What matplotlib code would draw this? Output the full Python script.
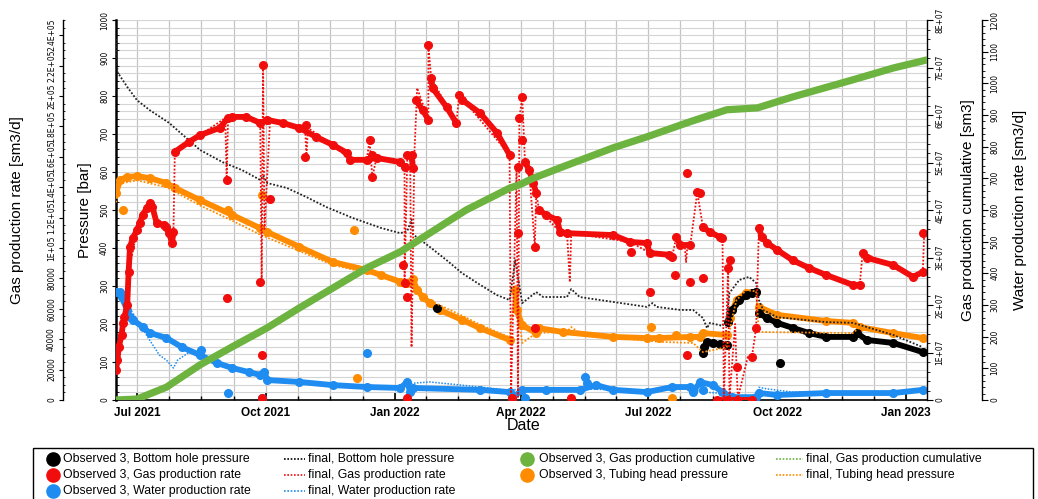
import matplotlib
matplotlib.use("Agg")
import matplotlib.pyplot as plt
import matplotlib.dates as mdates
from matplotlib.ticker import FixedLocator, MultipleLocator
from matplotlib.lines import Line2D
from matplotlib.patches import Rectangle
from matplotlib import font_manager
import numpy as np
import pandas as pd

# ---------------- data ----------------
# Bottom hole pressure [bar]
bhp_final = [("2021-06-16", 950), ("2021-06-17", 863), ("2021-06-24", 824), ("2021-07-01", 789),
             ("2021-07-10", 763), ("2021-07-24", 729), ("2021-08-01", 703), ("2021-08-15", 658),
             ("2021-08-31", 626), ("2021-09-14", 605), ("2021-09-27", 579), ("2021-09-29", 590),
             ("2021-10-02", 571), ("2021-10-16", 558), ("2021-10-30", 534), ("2021-11-13", 508),
             ("2021-12-02", 479), ("2021-12-22", 453), ("2022-01-05", 439), ("2022-01-10", 445),
             ("2022-01-13", 475), ("2022-01-14", 436), ("2022-01-26", 403), ("2022-02-07", 368),
             ("2022-02-18", 334), ("2022-03-03", 303), ("2022-03-15", 276), ("2022-03-24", 263),
             ("2022-03-28", 368), ("2022-04-02", 255), ("2022-04-12", 284), ("2022-04-17", 271),
             ("2022-05-04", 271), ("2022-05-07", 292), ("2022-05-13", 271), ("2022-06-06", 258),
             ("2022-06-30", 245), ("2022-07-04", 255), ("2022-07-07", 245), ("2022-07-24", 237),
             ("2022-08-02", 237), ("2022-08-09", 216), ("2022-08-12", 189), ("2022-08-14", 203),
             ("2022-08-23", 195), ("2022-08-26", 216), ("2022-08-28", 282), ("2022-09-04", 316),
             ("2022-09-11", 324), ("2022-09-16", 308), ("2022-09-18", 263), ("2022-09-21", 237),
             ("2022-10-01", 218), ("2022-11-05", 205), ("2022-11-24", 203), ("2022-12-04", 192),
             ("2022-12-23", 171), ("2023-01-13", 139)]
bhp_obs = [("2022-08-09", 124), ("2022-08-10", 140), ("2022-08-12", 153), ("2022-08-16", 150),
           ("2022-08-21", 147), ("2022-08-26", 145), ("2022-08-26", None),
           ("2022-08-27", 205), ("2022-08-30", 237), ("2022-09-04", 262), ("2022-09-09", 276),
           ("2022-09-13", 282), ("2022-09-16", 284), ("2022-09-16", None),
           ("2022-09-18", 229), ("2022-09-24", 215), ("2022-10-01", 203), ("2022-10-12", 190),
           ("2022-10-24", 176), ("2022-11-05", 166), ("2022-11-24", 166), ("2022-11-27", 176),
           ("2022-12-04", 158), ("2022-12-23", 150), ("2023-01-13", 126)]
bhp_obs_single = [("2022-01-31", 242), ("2022-10-03", 97)]

# Tubing head pressure [bar]
thp_obs = [("2021-06-16", 545), ("2021-06-19", 579), ("2021-06-24", 587), ("2021-07-01", 589),
           ("2021-07-10", 584), ("2021-07-22", 571), ("2021-07-28", 558), ("2021-08-15", 526),
           ("2021-09-07", 487), ("2021-09-27", 452), ("2021-10-02", 442), ("2021-10-25", 403),
           ("2021-11-18", 363), ("2021-12-12", 342), ("2021-12-22", 329), ("2022-01-05", 311),
           ("2022-01-10", 308), ("2022-01-14", 318), ("2022-01-17", 289), ("2022-01-21", 271),
           ("2022-01-26", 255), ("2022-02-02", 237), ("2022-02-18", 211), ("2022-03-03", 189),
           ("2022-03-24", 158), ("2022-03-24", None),
           ("2022-03-28", 289), ("2022-03-29", 237), ("2022-04-02", 197), ("2022-04-12", 176),
           ("2022-04-14", 189), ("2022-05-01", 179), ("2022-06-06", 166), ("2022-06-30", 163),
           ("2022-07-09", 163), ("2022-07-31", 166), ("2022-08-07", 166), ("2022-08-09", 176),
           ("2022-08-26", 171), ("2022-08-26", None),
           ("2022-08-28", 216), ("2022-09-02", 263), ("2022-09-09", 282), ("2022-09-16", 284),
           ("2022-09-16", None),
           ("2022-09-18", 245), ("2022-10-01", 224), ("2022-11-05", 208), ("2022-11-24", 203),
           ("2022-11-29", 192), ("2022-12-23", 176), ("2023-01-13", 163)]
thp_obs_single = [("2021-06-21", 500), ("2021-09-04", 500), ("2021-09-28", 540), ("2021-12-03", 447),
                  ("2021-12-05", 58), ("2022-07-03", 192), ("2022-07-21", 171), ("2022-07-18", 5)]
thp_final = [("2021-06-16", 520), ("2021-06-19", 570), ("2021-07-01", 578), ("2021-07-22", 560),
             ("2021-08-15", 512), ("2021-09-07", 472), ("2021-09-27", 435), ("2021-10-25", 392),
             ("2021-11-18", 355), ("2021-12-12", 335), ("2022-01-05", 318), ("2022-01-14", 300),
             ("2022-01-26", 262), ("2022-02-18", 222), ("2022-03-03", 198), ("2022-03-24", 165),
             ("2022-03-28", 300), ("2022-04-02", 150), ("2022-04-12", 176), ("2022-05-04", 180),
             ("2022-05-07", 192), ("2022-05-13", 176), ("2022-06-06", 165), ("2022-07-09", 153),
             ("2022-08-02", 150), ("2022-08-09", 126), ("2022-08-26", 139), ("2022-08-30", 218),
             ("2022-09-02", 263), ("2022-09-09", 289), ("2022-09-16", 286), ("2022-09-18", 179),
             ("2022-11-24", 176), ("2022-11-29", 192), ("2022-12-23", 176), ("2023-01-13", 160)]

# Gas production rate [sm3/d]
gas_obs = [("2021-06-16", 19750), ("2021-06-17", 26250), ("2021-06-18", 35000), ("2021-06-20", 42750),
           ("2021-06-21", 50750), ("2021-06-22", 54500), ("2021-06-24", 62500), ("2021-06-25", 84250),
           ("2021-06-26", 100750), ("2021-06-28", 106500), ("2021-07-01", 111750), ("2021-07-03", 116500),
           ("2021-07-05", 121750), ("2021-07-08", 126250), ("2021-07-10", 129500), ("2021-07-12", 127000),
           ("2021-07-15", 116500), ("2021-07-20", 115250), ("2021-07-22", 113750), ("2021-07-24", 109750),
           ("2021-07-26", 103250), ("2021-07-27", 110500), ("2021-07-27", None),
           ("2021-07-28", 163250), ("2021-08-07", 169750), ("2021-08-15", 174250), ("2021-08-29", 179000),
           ("2021-09-04", 185500), ("2021-09-07", 186250), ("2021-09-17", 186250), ("2021-09-27", 182250),
           ("2021-10-02", 184250), ("2021-10-13", 182250), ("2021-10-25", 179000), ("2021-11-06", 173000),
           ("2021-11-18", 167750), ("2021-11-28", 162500), ("2021-11-30", 158000), ("2021-12-12", 158000),
           ("2021-12-19", 159250), ("2022-01-05", 156500), ("2022-01-08", 153250), ("2022-01-08", None),
           ("2022-01-10", 161250), ("2022-01-13", 161250), ("2022-01-14", 152750), ("2022-01-14", None),
           ("2022-01-16", 197250), ("2022-01-21", 190750), ("2022-01-25", 184250), ("2022-01-25", None),
           ("2022-01-27", 211750), ("2022-01-28", 205250), ("2022-02-07", 192750), ("2022-02-14", 182250),
           ("2022-02-14", None),
           ("2022-02-16", 200750), ("2022-02-18", 197500), ("2022-03-03", 188750), ("2022-03-15", 175750),
           ("2022-03-24", 161250), ("2022-03-24", None),
           ("2022-04-04", 156500), ("2022-04-07", 151250), ("2022-04-10", 142500), ("2022-04-12", 136250),
           ("2022-04-12", None),
           ("2022-04-14", 125000), ("2022-04-19", 121750), ("2022-04-27", 118500), ("2022-04-29", 110500),
           ("2022-05-04", 109750), ("2022-06-06", 108500), ("2022-06-18", 104000), ("2022-06-30", 103250),
           ("2022-07-02", 96750), ("2022-07-16", 95500), ("2022-07-18", 94000), ("2022-07-18", None),
           ("2022-07-21", 107250), ("2022-07-24", 102000), ("2022-07-31", 102000), ("2022-07-31", None),
           ("2022-08-05", 136750), ("2022-08-07", 136250), ("2022-08-07", None),
           ("2022-08-09", 113750), ("2022-08-14", 110500), ("2022-08-21", 107250), ("2022-08-23", 106500),
           ("2022-08-23", None),
           ("2022-08-19", 0), ("2022-08-26", 0), ("2022-09-02", 0), ("2022-09-13", 0), ("2022-09-13", None),
           ("2022-09-18", 113250), ("2022-09-20", 107250), ("2022-09-24", 103250), ("2022-10-01", 98750),
           ("2022-10-12", 92000), ("2022-10-24", 86750), ("2022-11-05", 82250), ("2022-11-24", 75750),
           ("2022-11-29", 75750), ("2022-11-29", None),
           ("2022-12-01", 96750), ("2022-12-04", 93500), ("2022-12-23", 88750), ("2023-01-06", 81000),
           ("2023-01-13", 84250)]
gas_obs_single = [("2021-09-03", 67000), ("2021-09-03", 144750), ("2021-09-29", 220500), ("2021-09-27", 77750),
                  ("2021-09-28", 29500), ("2021-09-28", 1250), ("2021-10-04", 132250), ("2021-10-30", 181000),
                  ("2021-10-29", 160000), ("2021-12-14", 171000), ("2021-12-16", 161250), ("2021-12-16", 146750),
                  ("2022-01-07", 88750), ("2022-01-10", 67750), ("2022-01-08", 77000), ("2022-01-10", 1250),
                  ("2022-01-25", 233500), ("2022-03-26", 1250), ("2022-03-30", 153250), ("2022-03-31", 185500),
                  ("2022-04-02", 199250), ("2022-04-02", 171000), ("2022-03-30", 109750), ("2022-04-11", 100750),
                  ("2022-04-11", 47250), ("2022-05-07", 1250), ("2022-06-19", 97250), ("2022-07-02", 71000),
                  ("2022-07-20", 82250), ("2022-07-31", 77500), ("2022-08-09", 80250), ("2022-07-29", 29500),
                  ("2022-07-29", 149250), ("2022-08-27", 86750), ("2022-08-28", 92000), ("2022-09-02", 21750),
                  ("2022-09-13", 28250), ("2022-09-16", 47250), ("2023-01-13", 109750)]
gas_final = [("2021-06-16", 19750), ("2021-06-17", 26250), ("2021-06-20", 42750), ("2021-06-24", 62500),
             ("2021-06-25", 84250), ("2021-07-01", 111750), ("2021-07-10", 129500), ("2021-07-15", 116500),
             ("2021-07-22", 113750), ("2021-07-27", 110000), ("2021-07-28", 163250), ("2021-08-15", 174250),
             ("2021-09-02", 185500), ("2021-09-03", 144750), ("2021-09-04", 185500), ("2021-09-17", 186250),
             ("2021-09-27", 182250), ("2021-09-28", 77750), ("2021-09-29", 220500), ("2021-09-30", 112500),
             ("2021-10-04", 184250), ("2021-10-25", 179000), ("2021-10-29", 179000), ("2021-10-30", 160000),
             ("2021-10-31", 179000), ("2021-11-18", 167750), ("2021-11-30", 158000), ("2021-12-12", 158000),
             ("2021-12-14", 171000), ("2021-12-16", 146750), ("2021-12-19", 159250), ("2022-01-05", 156500),
             ("2022-01-08", 153250), ("2022-01-08", 77000), ("2022-01-10", 161250), ("2022-01-12", 161250),
             ("2022-01-13", 34750), ("2022-01-15", 161250), ("2022-01-17", 205250), ("2022-01-25", 184250),
             ("2022-01-25", 233500), ("2022-01-27", 211750), ("2022-02-14", 182250), ("2022-02-16", 200750),
             ("2022-03-24", 161250), ("2022-03-25", 2000), ("2022-03-29", 153250), ("2022-03-30", 2000),
             ("2022-03-31", 185500), ("2022-04-02", 199250), ("2022-04-04", 156500), ("2022-04-07", 151250),
             ("2022-04-11", 100750), ("2022-04-12", 136250), ("2022-04-14", 125000), ("2022-04-29", 110500),
             ("2022-05-04", 109750), ("2022-05-06", 77500), ("2022-05-07", 109750), ("2022-06-18", 104000),
             ("2022-07-02", 96750), ("2022-07-18", 94000), ("2022-07-21", 107250), ("2022-07-27", 102000),
             ("2022-07-28", 90750), ("2022-07-29", 102000), ("2022-07-31", 102000), ("2022-08-05", 136750),
             ("2022-08-09", 113750), ("2022-08-23", 106500), ("2022-08-24", 1250), ("2022-08-27", 86750),
             ("2022-08-28", 1250), ("2022-09-01", 50000), ("2022-09-02", 21750), ("2022-09-03", 1250),
             ("2022-09-10", 28250), ("2022-09-13", 28250), ("2022-09-16", 47250), ("2022-09-18", 113250),
             ("2022-09-24", 103250), ("2022-10-12", 92000), ("2022-11-24", 75750), ("2022-11-29", 75750),
             ("2022-12-01", 96750), ("2022-12-23", 88750), ("2023-01-06", 81000), ("2023-01-13", 84250),
             ("2023-01-14", 109750)]

# Water production rate [sm3/d]
water_obs = [("2021-06-16", 341), ("2021-06-19", 341), ("2021-06-20", 325), ("2021-06-24", 284),
             ("2021-06-26", 262), ("2021-06-28", 253), ("2021-07-05", 231), ("2021-07-10", 212),
             ("2021-07-22", 196), ("2021-08-02", 167), ("2021-08-15", 142), ("2021-08-27", 117),
             ("2021-09-07", 101), ("2021-09-19", 88), ("2021-09-27", 79), ("2021-09-30", 88),
             ("2021-10-02", 63), ("2021-10-25", 57), ("2021-11-18", 47), ("2021-12-12", 41),
             ("2022-01-05", 38), ("2022-01-10", 57), ("2022-01-12", 25), ("2022-01-14", 38),
             ("2022-03-03", 32), ("2022-03-24", 25), ("2022-03-26", 6), ("2022-04-02", 32),
             ("2022-04-19", 32), ("2022-05-13", 32), ("2022-05-25", 47), ("2022-06-06", 32),
             ("2022-06-30", 25), ("2022-07-18", 41), ("2022-07-31", 41), ("2022-08-02", 25),
             ("2022-08-07", 57), ("2022-08-16", 47), ("2022-08-23", 25), ("2022-08-30", 9),
             ("2022-09-16", 9), ("2022-09-18", 22), ("2022-10-01", 16), ("2022-11-05", 22),
             ("2022-12-23", 22), ("2023-01-13", 32)]
water_obs_single = [("2021-08-16", 158), ("2021-12-12", 148), ("2021-09-04", 22), ("2021-09-28", 6),
                    ("2022-05-17", 73), ("2022-05-18", 54), ("2022-04-04", 6), ("2022-08-09", 32)]
water_final = [("2021-06-16", 341), ("2021-06-21", 316), ("2021-06-28", 275), ("2021-07-10", 189),
               ("2021-07-17", 142), ("2021-07-22", 126), ("2021-07-27", 101), ("2021-07-30", 126),
               ("2021-08-07", 150), ("2021-08-15", 140), ("2021-09-07", 100), ("2021-10-01", 75),
               ("2021-10-02", 60), ("2021-11-18", 50), ("2022-01-05", 42), ("2022-01-14", 53),
               ("2022-01-26", 57), ("2022-03-03", 41), ("2022-03-24", 30), ("2022-04-02", 36),
               ("2022-05-13", 35), ("2022-06-30", 30), ("2022-07-31", 35), ("2022-08-09", 25),
               ("2022-08-26", 20), ("2022-09-01", 8), ("2022-09-16", 8), ("2022-09-18", 40),
               ("2022-09-24", 35), ("2022-10-12", 25), ("2022-12-23", 25), ("2023-01-13", 30)]

# Gas production cumulative [sm3]
cum_obs = [("2021-06-16", 0), ("2021-07-01", 0.2e6), ("2021-07-22", 2.7e6), ("2021-08-15", 7.4e6),
           ("2021-09-07", 11.2e6), ("2021-10-02", 15.2e6), ("2021-10-25", 19.4e6), ("2021-11-18", 23.6e6),
           ("2021-12-12", 27.8e6), ("2022-01-05", 31.2e6), ("2022-02-21", 40.0e6), ("2022-03-24", 44.6e6),
           ("2022-03-31", 45.3e6), ("2022-04-10", 46.7e6), ("2022-05-01", 49.1e6), ("2022-06-06", 53.1e6),
           ("2022-06-30", 55.4e6), ("2022-07-31", 58.6e6), ("2022-08-26", 61.1e6), ("2022-09-17", 61.5e6),
           ("2022-10-12", 63.8e6), ("2022-11-24", 67.4e6), ("2022-12-23", 69.9e6), ("2023-01-16", 71.6e6)]

gas_ticks = [0, 20000, 40000, 60000, 80000, 100000, 120000, 140000, 160000, 180000, 200000, 220000, 240000]
gas_tick_labels = ["0", "20000", "40000", "60000", "80000", "1E+05", "1.2E+05", "1.4E+05",
                   "1.6E+05", "1.8E+05", "2E+05", "2.2E+05", "2.4E+05"]
cum_ticks = [0, 1e7, 2e7, 3e7, 4e7, 5e7, 6e7, 7e7, 8e7]
cum_tick_labels = ["0", "1E+07", "2E+07", "3E+07", "4E+07", "5E+07", "6E+07", "7E+07", "8E+07"]

# ---------------- styling ----------------
RED = "#f20d0d"
ORANGE = "#ff8c00"
BLUE = "#1e8cf0"
GREEN = "#6db33f"
BLACK = "#000000"
plt.rcParams["font.family"] = ["Liberation Sans", "DejaVu Sans"]

_names = {f.name for f in font_manager.fontManager.ttflist}
if "Liberation Sans Narrow" in _names:
    TICKFP = font_manager.FontProperties(family="Liberation Sans Narrow", size=6.6)
else:
    TICKFP = font_manager.FontProperties(family="DejaVu Sans", stretch="condensed", size=6.0)

W, H = 1038, 499
fig = plt.figure(figsize=(W / 100, H / 100), dpi=100)
L, R, T, B = 116, 927, 20, 400
ax = fig.add_axes([L / W, 1 - B / H, (R - L) / W, (B - T) / H])
axw = ax.twinx()
axg = ax.twinx()
axc = ax.twinx()


def unpack(pairs):
    d = pd.to_datetime([p[0] for p in pairs])
    v = np.array([np.nan if p[1] is None else p[1] for p in pairs], dtype=float)
    return d, v


def obs(axis, pairs, color, lw=4.2, ms=5.5):
    d, v = unpack(pairs)
    axis.plot(d, v, "-", color=color, lw=lw, solid_capstyle="round", solid_joinstyle="round",
              marker="o", ms=ms, mec=color, zorder=3)


def single(axis, pairs, color, ms=5.5):
    d, v = unpack(pairs)
    axis.plot(d, v, "o", color=color, ms=ms, mec=color, ls="none", zorder=3)


def final(axis, pairs, color, lw=1.3):
    d, v = unpack(pairs)
    axis.plot(d, v, color=color, ls=(0, (1, 1)), lw=lw, zorder=4)


# pressure axis
final(ax, thp_final, ORANGE)
obs(ax, thp_obs, ORANGE)
single(ax, thp_obs_single, ORANGE)
obs(ax, bhp_obs, BLACK)
single(ax, bhp_obs_single, BLACK)
final(ax, bhp_final, "#222222")
# water
obs(axw, water_obs, BLUE)
single(axw, water_obs_single, BLUE)
final(axw, water_final, BLUE, lw=1.1)
# gas rate
obs(axg, gas_obs, RED)
single(axg, gas_obs_single, RED)
final(axg, gas_final, RED)
# cumulative
d, v = unpack(cum_obs)
axc.plot(d, v, color=GREEN, lw=5.2, solid_capstyle="round", zorder=3)

# x axis
ax.set_xlim(pd.Timestamp("2021-06-16"), pd.Timestamp("2023-01-16"))
ax.xaxis.set_major_locator(mdates.MonthLocator(bymonth=[1, 4, 7, 10]))
ax.xaxis.set_major_formatter(mdates.DateFormatter("%b %Y"))
qs = pd.date_range("2021-04-01", "2023-04-01", freq="QS")
minor = []
for a, b in zip(qs[:-1], qs[1:]):
    na, nb = mdates.date2num(a), mdates.date2num(b)
    minor += [na + k * (nb - na) / 4 for k in (1, 2, 3)]
ax.xaxis.set_minor_locator(FixedLocator(minor))
ax.tick_params(axis="x", which="major", direction="in", length=5, width=1.2, pad=5,
               labelsize=8.5)
ax.tick_params(axis="x", which="minor", direction="in", length=3, width=1)
for t in ax.get_xticklabels():
    t.set_fontweight("bold")
ax.set_xlabel("Date", fontsize=11.5)
ax.xaxis.set_label_coords((524 - L) / (R - L), (B - 425) / (B - T))
ax.xaxis.label.set_va("center")

# pressure axis
ax.set_ylim(0, 1000)
ax.yaxis.set_major_locator(MultipleLocator(100))
ax.yaxis.set_minor_locator(MultipleLocator(20))
ax.tick_params(axis="y", which="major", direction="out", length=3, pad=2, labelrotation=90)
ax.tick_params(axis="y", which="minor", direction="in", length=2)
ax.grid(which="both", axis="y", color="#d4d4d4", lw=0.8)
ax.grid(which="both", axis="x", color="#c4c4c4", lw=0.9)
ax.set_axisbelow(True)
for s in ("top", "right"):
    ax.spines[s].set_visible(False)
ax.spines["left"].set_linewidth(1.8)
ax.spines["bottom"].set_linewidth(1.2)
ax.set_ylabel("Pressure [bar]", fontsize=11, rotation=90, va="center", ha="center")
ax.yaxis.set_label_coords((85 - L) / (R - L), 0.5)

# gas rate axis (left, offset)
GAS_X = 63
axg.set_ylim(0, 250000)
axg.yaxis.tick_left()
axg.yaxis.set_label_position("left")
axg.spines["left"].set_visible(True)
axg.spines["left"].set_position(("outward", (L - GAS_X) * 0.72))
axg.spines["left"].set_linewidth(1.0)
for s in ("top", "right", "bottom"):
    axg.spines[s].set_visible(False)
axg.yaxis.set_major_locator(FixedLocator(gas_ticks))
axg.set_yticklabels(gas_tick_labels)
axg.yaxis.set_minor_locator(MultipleLocator(5000))
axg.tick_params(axis="y", which="major", direction="out", length=3, pad=2, labelrotation=90)
axg.tick_params(axis="y", which="minor", direction="in", length=1.5)
axg.set_ylabel("Gas production rate [sm3/d]", fontsize=11, rotation=90, va="center", ha="center")
axg.yaxis.set_label_coords((17 - L) / (R - L), 0.5)

# cumulative axis (right)
axc.set_ylim(0, 8e7)
for s in ("top", "left", "bottom"):
    axc.spines[s].set_visible(False)
axc.spines["right"].set_linewidth(1.0)
axc.yaxis.set_major_locator(FixedLocator(cum_ticks))
axc.set_yticklabels(cum_tick_labels)
axc.yaxis.set_minor_locator(MultipleLocator(2e6))
axc.tick_params(axis="y", which="major", direction="out", length=4, pad=2, labelrotation=90)
axc.tick_params(axis="y", which="minor", direction="out", length=2)
axc.set_ylabel("Gas production cumulative [sm3]", fontsize=11, rotation=90, va="center", ha="center")
axc.yaxis.set_label_coords((968 - L) / (R - L), 0.5)

# water axis (right, offset)
axw.set_ylim(0, 1200)
for s in ("top", "left", "bottom"):
    axw.spines[s].set_visible(False)
axw.spines["right"].set_position(("outward", (982 - R) * 0.72))
axw.spines["right"].set_linewidth(1.0)
axw.yaxis.set_major_locator(MultipleLocator(100))
axw.yaxis.set_minor_locator(MultipleLocator(20))
axw.tick_params(axis="y", which="major", direction="out", length=4, pad=2, labelrotation=90)
axw.tick_params(axis="y", which="minor", direction="out", length=2)
axw.set_ylabel("Water production rate [sm3/d]", fontsize=11, rotation=90, va="center", ha="center")
axw.yaxis.set_label_coords((1020 - L) / (R - L), 0.5)

for a in (ax, axg, axc, axw):
    for t in a.get_yticklabels():
        t.set_fontproperties(TICKFP)
        t.set_va("center")

# ---------------- legend (bottom box) ----------------
def fx(px):
    return px / W


def fy(py):
    return 1 - py / H


fig.add_artist(Rectangle((fx(33), fy(H + 10)), fx(1033) - fx(33), fy(448) - fy(H + 10),
                         transform=fig.transFigure, fill=False, ec="black", lw=1.0, clip_on=False))
rows = [459, 475, 491]
col_obs = [(53, 63, [("Observed 3, Bottom hole pressure", BLACK),
                     ("Observed 3, Gas production rate", RED),
                     ("Observed 3, Water production rate", BLUE)]),
           (527, 539, [("Observed 3, Gas production cumulative", GREEN),
                       ("Observed 3, Tubing head pressure", ORANGE)])]
col_fin = [(284, 305, 308, [("final, Bottom hole pressure", BLACK),
                            ("final, Gas production rate", RED),
                            ("final, Water production rate", BLUE)]),
           (776, 803, 806, [("final, Gas production cumulative", GREEN),
                            ("final, Tubing head pressure", ORANGE)])]
LEGFS = 8.8
for mx, tx, entries in col_obs:
    for (label, c), ry in zip(entries, rows):
        fig.add_artist(Line2D([fx(mx)], [fy(ry)], marker="o", ms=9.5, color=c, mec=c,
                              ls="none", transform=fig.transFigure))
        fig.text(fx(tx), fy(ry), label, fontsize=LEGFS, va="center", ha="left")
for x0, x1, tx, entries in col_fin:
    for (label, c), ry in zip(entries, rows):
        fig.add_artist(Line2D([fx(x0), fx(x1)], [fy(ry), fy(ry)], color=c, ls=(0, (1, 1)),
                              lw=1.2, transform=fig.transFigure))
        fig.text(fx(tx), fy(ry), label, fontsize=LEGFS, va="center", ha="left")

fig.savefig("out.png", dpi=100)
